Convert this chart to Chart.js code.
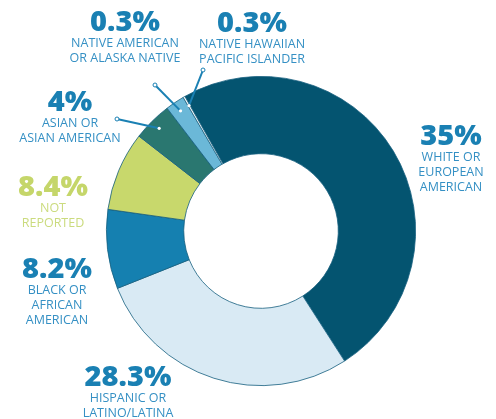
<!DOCTYPE html>
<html>
<head>
<meta charset="utf-8">
<script src="https://cdn.jsdelivr.net/npm/chart.js@4/dist/chart.umd.min.js"></script>
<style>
  html, body { margin: 0; padding: 0; background: #fff; }
  #wrap { width: 496px; height: 419px; }
</style>
</head>
<body>
<div id="wrap"><canvas id="c" width="496" height="419"></canvas></div>
<script>
"use strict";

// groups in drawing order, clockwise from the start of the white/european slice
const groups = ["White or European American", "Hispanic or Latino/Latina", "Black or African American",
  "Not reported", "Asian or Asian American", "Native American or Alaska Native", "Native Hawaiian Pacific Islander"];
// slice sizes as drawn in the picture (share of the ring)
const sliceShare = [49.2, 28.1, 8.3, 8.3, 4.1, 2.0, 0.2];
// percentages as printed on the labels
const printedPct = ["35%", "28.3%", "8.2%", "8.4%", "4%", "0.3%", "0.3%"];
const labelLines = [
  ["WHITE OR", "EUROPEAN", "AMERICAN"],
  ["HISPANIC OR", "LATINO/LATINA"],
  ["BLACK OR", "AFRICAN", "AMERICAN"],
  ["NOT", "REPORTED"],
  ["ASIAN OR", "ASIAN AMERICAN"],
  ["NATIVE AMERICAN", "OR ALASKA NATIVE"],
  ["NATIVE HAWAIIAN", "PACIFIC ISLANDER"],
];
const colors = ["#045470", "#d9eaf4", "#1580b0", "#c8d86c", "#2a7770", "#6bb8d8", "#ffffff"];

// label layout: centre x, baseline-ish centre y of the big number
const labelPos = [
  { x: 451, y: 137 }, { x: 128, y: 378 }, { x: 57, y: 270 }, { x: 53, y: 188 },
  { x: 70, y: 103 }, { x: 125, y: 23 }, { x: 252, y: 24 },
];
// leader lines for the small slices: outer end of each line
const leaders = { 4: { x: 117, y: 119 }, 5: { x: 155, y: 85 }, 6: { x: 203, y: 70 } };

const BLUE = "#1a80b3";
const LABEL = "#3590c4";

const labelPlugin = {
  id: "labels",
  afterDraw(chart) {
    const ctx = chart.ctx;
    const arcs = chart.getDatasetMeta(0).data;
    ctx.save();
    // leader lines
    Object.keys(leaders).forEach((k) => {
      const a = arcs[+k];
      const mid = (a.startAngle + a.endAngle) / 2;
      const r = a.outerRadius - 10;
      const px = a.x + Math.cos(mid) * r, py = a.y + Math.sin(mid) * r;
      const end = leaders[k];
      ctx.strokeStyle = BLUE;
      ctx.lineWidth = 2;
      ctx.beginPath(); ctx.moveTo(end.x, end.y); ctx.lineTo(px, py); ctx.stroke();
      ctx.fillStyle = "#fff";
      ctx.lineWidth = 1;
      ctx.beginPath(); ctx.arc(end.x, end.y, 2, 0, Math.PI * 2); ctx.fill(); ctx.stroke();
      ctx.beginPath(); ctx.arc(px, py, 1.6, 0, Math.PI * 2); ctx.fill();
    });
    // texts
    ctx.textAlign = "center";
    ctx.textBaseline = "middle";
    labelPos.forEach((p, i) => {
      const yellow = i === 3;
      ctx.fillStyle = yellow ? "#c5d66a" : BLUE;
      ctx.font = "800 29px 'Open Sans'";
      ctx.fillText(printedPct[i], p.x, p.y);
      ctx.fillStyle = yellow ? "#cbdb7e" : LABEL;
      ctx.font = "400 12.5px 'Open Sans'";
      labelLines[i].forEach((t, j) => ctx.fillText(t, p.x, p.y + 20 + j * 15));
    });
    ctx.restore();
  }
};

new Chart(document.getElementById("c"), {
  type: "doughnut",
  data: {
    labels: groups,
    datasets: [{
      data: sliceShare,
      backgroundColor: colors,
      borderColor: "#16607f",
      borderWidth: 0.8,
    }]
  },
  options: {
    responsive: false,
    animation: false,
    rotation: -29.5,
    cutout: "50%",
    layout: { padding: { left: 106, right: 80, top: 76, bottom: 33 } },
    plugins: { legend: { display: false }, tooltip: { enabled: false } },
  },
  plugins: [labelPlugin],
});
</script>
</body>
</html>
